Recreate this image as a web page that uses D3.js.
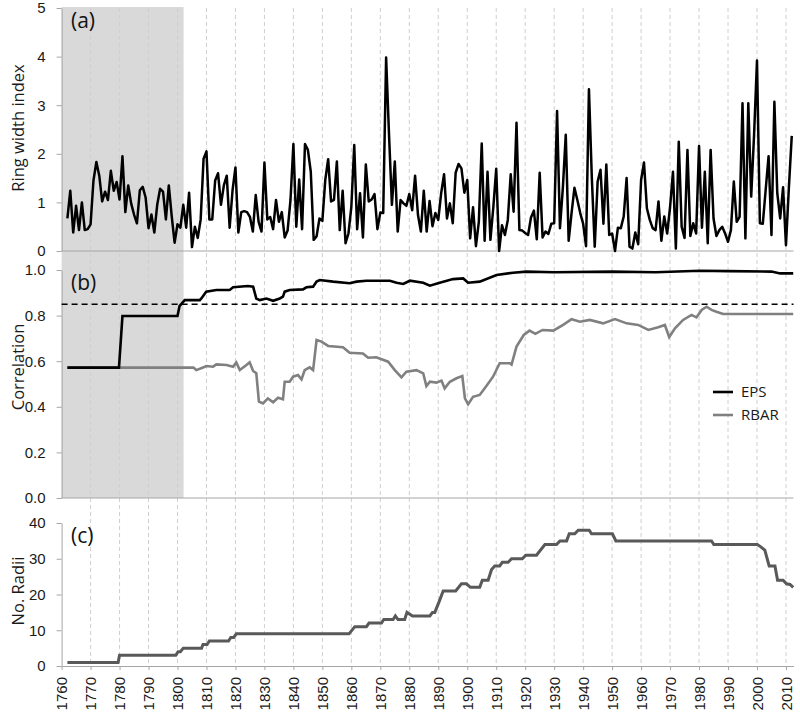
<!DOCTYPE html>
<html>
<head>
<meta charset="utf-8">
<script src="https://cdn.jsdelivr.net/npm/d3@7/dist/d3.min.js"></script>
<style>
  body { margin: 0; background: #fff; }
  svg { font-family: 'Open Sans', sans-serif; }
</style>
</head>
<body>
<div id="chart"></div>
<script>
// Panel (a): ring width index, one value per year from ringStart
const ringStart = 1762;
const ringWidth = [
  0.67, 1.24, 0.38, 0.93, 0.43, 1.0, 0.43, 0.45,
  0.55, 1.45, 1.83, 1.55, 1.02, 1.22, 1.05, 1.65, 1.24, 1.42,
  1.06, 1.95, 0.8, 1.35, 0.98, 0.75, 0.57, 1.25, 1.32, 1.1,
  0.47, 0.75, 0.38, 0.95, 1.28, 1.22, 0.65, 1.35, 0.72, 0.17,
  0.55, 0.48, 0.95, 0.48, 1.2, 0.08, 0.5, 0.27, 0.65, 1.9,
  2.05, 0.65, 0.65, 1.45, 1.6, 0.95, 1.35, 1.55, 0.48, 1.25,
  1.72, 0.38, 0.8, 0.82, 0.8, 0.7, 0.4, 1.15, 0.6, 0.4,
  1.82, 0.65, 0.7, 0.45, 1.05, 0.6, 0.8, 0.28, 0.42, 1.05,
  2.2, 0.5, 1.47, 0.45, 2.2, 2.08, 1.63, 0.23, 0.3, 0.67,
  0.62, 1.46, 1.89, 1.02, 1.05, 1.84, 0.43, 1.24, 0.16, 0.36,
  0.91, 2.18, 0.45, 1.19, 0.28, 1.78, 1.02, 1.06, 1.17, 0.45,
  0.79, 0.78, 3.98, 2.4, 0.95, 1.84, 0.4, 1.05, 0.98, 0.93,
  1.17, 0.84, 1.55, 0.74, 0.4, 1.24, 0.4, 1.03, 0.51, 0.78,
  0.64, 1.19, 1.58, 0.67, 0.98, 0.57, 1.61, 1.79, 1.7, 1.2,
  1.46, 0.26, 0.9, 0.1, 0.6, 2.21, 0.21, 1.63, 0.23, 0.9,
  1.69, 0.0, 0.53, 0.33, 0.64, 1.58, 0.81, 2.64, 0.43, 0.42,
  0.37, 0.33, 0.69, 0.83, 0.24, 1.61, 0.28, 0.4, 0.35, 0.56,
  0.57, 2.88, 0.47, 1.3, 2.39, 0.21, 0.78, 1.3, 1.05, 0.78,
  0.56, 0.1, 3.33, 1.5, 0.09, 1.43, 1.67, 0.56, 1.78, 0.33,
  0.36, 0.0, 0.48, 0.47, 0.71, 1.5, 0.09, 0.05, 0.38, 0.14,
  1.46, 1.82, 0.88, 0.64, 0.47, 0.43, 1.02, 0.21, 0.71, 0.36,
  0.9, 1.63, 0.05, 2.25, 0.5, 0.27, 2.08, 0.31, 0.57, 0.36,
  2.16, 0.48, 1.63, 0.16, 2.08, 0.67, 0.31, 0.43, 0.5, 0.36,
  0.19, 0.43, 1.43, 0.6, 0.7, 3.04, 0.26, 3.04, 1.12, 2.4,
  3.92, 0.57, 0.56, 1.26, 1.95, 0.33, 3.07, 1.19, 0.67, 1.31,
  0.12, 1.3, 2.37
];

// Panel (b): running EPS and RBAR
const epsYears = [1762, 1779.8, 1781, 1800, 1800.7, 1802.5, 1807.7, 1808.3, 1809.9, 1813.4, 1818, 1819.2,
  1824.3, 1826.1, 1827.2, 1828.4, 1830.7, 1833, 1835.3, 1836.4, 1837, 1838.7, 1843.3, 1844.5, 1846.8,
  1848, 1849.1, 1853.7, 1859.4, 1861.8, 1865.2, 1873.3, 1875.6, 1877.9, 1880.2, 1884.8, 1887.1, 1890.5,
  1895.1, 1898.6, 1900.3, 1904.3, 1910.1, 1915.8, 1920.4, 1930, 1950, 1965, 1980.3, 1990, 2005, 2008, 2012.5];
const epsValues = [0.572, 0.572, 0.798, 0.798, 0.842, 0.868, 0.868, 0.876, 0.905, 0.912, 0.912, 0.924,
  0.93, 0.927, 0.875, 0.868, 0.875, 0.865, 0.875, 0.883, 0.905, 0.912, 0.915, 0.924, 0.927,
  0.949, 0.956, 0.949, 0.942, 0.949, 0.953, 0.953, 0.944, 0.939, 0.953, 0.944, 0.931, 0.944,
  0.96, 0.963, 0.944, 0.949, 0.978, 0.988, 0.993, 0.99, 0.993, 0.99, 0.997, 0.995, 0.993, 0.985, 0.985];

const rbarYears = [1762, 1805.5, 1806.5, 1808.8, 1809.9, 1812.3, 1813.4, 1816.9, 1819.2, 1820.3, 1821.5,
  1823.8, 1824.9, 1826.1, 1827.2, 1828.1, 1829.5, 1831.2, 1833, 1834.7, 1836.4, 1837, 1838.7, 1839.9,
  1841.6, 1842.8, 1843.9, 1845.6, 1846.8, 1848, 1849.7, 1852, 1857.1, 1859.4, 1864, 1865.8, 1868.6,
  1872.7, 1875, 1877.3, 1879, 1882.5, 1884.8, 1885.9, 1887.1, 1889.4, 1891.1, 1892.2, 1894, 1896.3,
  1898.3, 1899.2, 1900.3, 1902, 1904.3, 1906.6, 1908.9, 1911.2, 1914.7, 1915.3, 1917, 1919.5, 1921.5,
  1923.5, 1926, 1929.7, 1933.1, 1936, 1938.9, 1942.3, 1946.9, 1951, 1955, 1959, 1962.5, 1965.9, 1968.2,
  1969.7, 1971.7, 1974.5, 1977.4, 1979.1, 1980.9, 1982.6, 1984.3, 1986, 1988.3, 2012.5];
const rbarValues = [0.572, 0.572, 0.561, 0.572, 0.579, 0.576, 0.586, 0.583, 0.576, 0.594, 0.561,
  0.583, 0.595, 0.557, 0.547, 0.423, 0.415, 0.437, 0.42, 0.44, 0.433, 0.51, 0.51, 0.532,
  0.539, 0.52, 0.561, 0.573, 0.561, 0.693, 0.686, 0.667, 0.661, 0.637, 0.634, 0.615, 0.617,
  0.598, 0.561, 0.529, 0.554, 0.561, 0.547, 0.491, 0.51, 0.506, 0.515, 0.481, 0.51, 0.525,
  0.535, 0.437, 0.411, 0.444, 0.452, 0.491, 0.532, 0.591, 0.591, 0.585, 0.664, 0.715, 0.734,
  0.72, 0.737, 0.734, 0.759, 0.784, 0.773, 0.781, 0.766, 0.785, 0.766, 0.759, 0.737, 0.749, 0.759,
  0.706, 0.744, 0.781, 0.803, 0.792, 0.825, 0.839, 0.825, 0.817, 0.807, 0.807];

const epsThreshold = 0.85;
const shadeEnd = 1802.1;

// Panel (c): number of radii
const radiiYears = [1762, 1779.5, 1780, 1799.4, 1800.2, 1801, 1802, 1808.3, 1808.8, 1810.2, 1811, 1817.6,
  1818.4, 1819.4, 1820.3, 1859.2, 1861.2, 1865.2, 1866.1, 1870.4, 1871.2, 1874.4, 1875.2, 1876.1, 1878.4,
  1879.2, 1881.1, 1887.1, 1888, 1888.8, 1890.3, 1891.7, 1896, 1898, 1899.7, 1901.1, 1904.3, 1905.2,
  1907.2, 1908.4, 1909.5, 1911.2, 1912.1, 1914.1, 1915.3, 1919, 1920.2, 1923.9, 1926.8, 1930.8, 1932,
  1934.3, 1935.2, 1937.1, 1938.3, 1942.1, 1942.9, 1950.1, 1951.3, 1984.3, 1985.1, 2000.1, 2001.2,
  2002.7, 2004.2, 2006.2, 2007.1, 2009, 2010.2, 2011.4, 2012.5];
const radiiValues = [1, 1, 3, 3, 4, 4, 5, 5, 6, 6, 7, 7,
  8, 8, 9, 9, 11, 11, 12, 12, 13, 13, 14, 13, 13,
  15, 14, 14, 15, 15, 18, 21, 21, 23, 23, 22, 22, 24,
  24, 27, 28, 28, 29, 29, 30, 30, 31, 31, 34, 34, 35,
  35, 37, 37, 38, 38, 37, 37, 35, 35, 34, 34, 33.4,
  32.4, 28, 28, 24, 24, 23, 22.8, 22];

const xTicks = [1760, 1770, 1780, 1790, 1800, 1810, 1820, 1830, 1840, 1850, 1860, 1870, 1880,
  1890, 1900, 1910, 1920, 1930, 1940, 1950, 1960, 1970, 1980, 1990, 2000, 2010];
const ticksA = [0, 1, 2, 3, 4, 5];
const ticksB = [0, 0.2, 0.4, 0.6, 0.8, 1.0];
const ticksC = [0, 10, 20, 30, 40];

const width = 800;
const height = 713;
const axisColor = '#a6a6a6';
const textColor = '#1a1a1a';

const svg = d3.select('#chart')
  .append('svg')
  .attr('width', width)
  .attr('height', height);

const x = d3.scaleLinear().domain([1760, 2012.6]).range([61.6, 793.5]);

const yA = d3.scaleLinear().domain([0, 5]).range([251, 8]);
const yB = d3.scaleLinear().domain([0, 1]).range([498, 270]);
const yC = d3.scaleLinear().domain([0, 40]).range([666, 523]);

// Shaded period (low EPS)
svg.append('rect')
  .attr('x', x(1760))
  .attr('y', 7)
  .attr('width', x(shadeEnd) - x(1760))
  .attr('height', yB(0) - 7)
  .attr('fill', '#d9d9d9');

// Dashed vertical gridlines
svg.append('g')
  .selectAll('line')
  .data(xTicks.slice(1))
  .enter()
  .append('line')
  .attr('x1', (d) => x(d))
  .attr('x2', (d) => x(d))
  .attr('y1', 8)
  .attr('y2', yC(0))
  .attr('stroke', '#cfcfcf')
  .attr('stroke-width', 1)
  .attr('stroke-dasharray', '4,3');

// Y axes
const drawYAxis = (scale, ticks, fmt) => {
  const g = svg.append('g')
    .attr('transform', `translate(${x(1760)},0)`)
    .call(d3.axisLeft(scale).tickValues(ticks).tickFormat(fmt).tickSize(5).tickSizeOuter(0).tickPadding(11));
  g.select('.domain').attr('stroke', axisColor);
  g.selectAll('.tick line').attr('stroke', axisColor);
  g.selectAll('.tick text').attr('fill', textColor).style('font-size', '15px');
};
drawYAxis(yA, ticksA, d3.format('d'));
drawYAxis(yB, ticksB, d3.format('.1f'));
drawYAxis(yC, ticksC, d3.format('d'));

// Baselines of panels (a) and (b)
[yA(0), yB(0)].forEach((yy) => {
  svg.append('line')
    .attr('x1', x(1760)).attr('x2', x.range()[1])
    .attr('y1', yy).attr('y2', yy)
    .attr('stroke', axisColor);
});

// Bottom x axis with rotated year labels
const xAxis = svg.append('g')
  .attr('transform', `translate(0,${yC(0)})`)
  .call(d3.axisBottom(x).tickValues(xTicks).tickFormat(d3.format('d')).tickSize(4).tickSizeOuter(0));
xAxis.select('.domain').attr('stroke', axisColor);
xAxis.selectAll('.tick line').attr('stroke', axisColor);
xAxis.selectAll('.tick text')
  .attr('transform', 'rotate(-90)')
  .attr('x', -11)
  .attr('y', 0)
  .attr('dy', '0.35em')
  .style('text-anchor', 'end')
  .style('font-size', '15px')
  .attr('fill', textColor);

// Axis titles
const yTitles = [
  { text: 'Ring width index', cy: 128 },
  { text: 'Correlation', cy: 367 },
  { text: 'No. Radii', cy: 591 }
];
yTitles.forEach((t) => {
  svg.append('text')
    .attr('transform', `translate(18,${t.cy}) rotate(-90)`)
    .attr('text-anchor', 'middle')
    .attr('dy', '0.35em')
    .style('font-size', '16.5px')
    .attr('fill', textColor)
    .text(t.text);
});

// Panel letters
[{ t: '(a)', y: 28 }, { t: '(b)', y: 290 }, { t: '(c)', y: 543 }].forEach((p) => {
  svg.append('text')
    .attr('x', 71)
    .attr('y', p.y)
    .style('font-size', '21px')
    .attr('fill', '#111')
    .text(p.t);
});

// Panel (a) line
const ringData = ringWidth.map((v, i) => ({ year: ringStart + i, value: v }));
svg.append('path')
  .datum(ringData)
  .attr('fill', 'none')
  .attr('stroke', '#000')
  .attr('stroke-width', 2.5)
  .attr('stroke-linejoin', 'round')
  .attr('d', d3.line().x((d) => x(d.year)).y((d) => yA(d.value)));

// Panel (b) lines
svg.append('line')
  .attr('x1', x(1760)).attr('x2', x.range()[1])
  .attr('y1', yB(epsThreshold)).attr('y2', yB(epsThreshold))
  .attr('stroke', '#000')
  .attr('stroke-width', 1.6)
  .attr('stroke-dasharray', '6,4');

const rbarData = rbarYears.map((yr, i) => ({ year: yr, value: rbarValues[i] }));
const epsData = epsYears.map((yr, i) => ({ year: yr, value: epsValues[i] }));
const lineB = d3.line().x((d) => x(d.year)).y((d) => yB(d.value));

svg.append('path')
  .datum(rbarData)
  .attr('fill', 'none')
  .attr('stroke', '#808080')
  .attr('stroke-width', 2.6)
  .attr('d', lineB);

svg.append('path')
  .datum(epsData)
  .attr('fill', 'none')
  .attr('stroke', '#000')
  .attr('stroke-width', 2.6)
  .attr('d', lineB);

// Legend
const legend = [
  { label: 'EPS', color: '#000', y: 392 },
  { label: 'RBAR', color: '#808080', y: 415 }
];
legend.forEach((l) => {
  svg.append('line')
    .attr('x1', 713).attr('x2', 733)
    .attr('y1', l.y).attr('y2', l.y)
    .attr('stroke', l.color)
    .attr('stroke-width', 2.6);
  svg.append('text')
    .attr('x', 741)
    .attr('y', l.y)
    .attr('dy', '0.35em')
    .style('font-size', '15px')
    .attr('fill', textColor)
    .text(l.label);
});

// Panel (c) line
const radiiData = radiiYears.map((yr, i) => ({ year: yr, value: radiiValues[i] }));
svg.append('path')
  .datum(radiiData)
  .attr('fill', 'none')
  .attr('stroke', '#595959')
  .attr('stroke-width', 3)
  .attr('d', d3.line().x((d) => x(d.year)).y((d) => yC(d.value)));
</script>
</body>
</html>
